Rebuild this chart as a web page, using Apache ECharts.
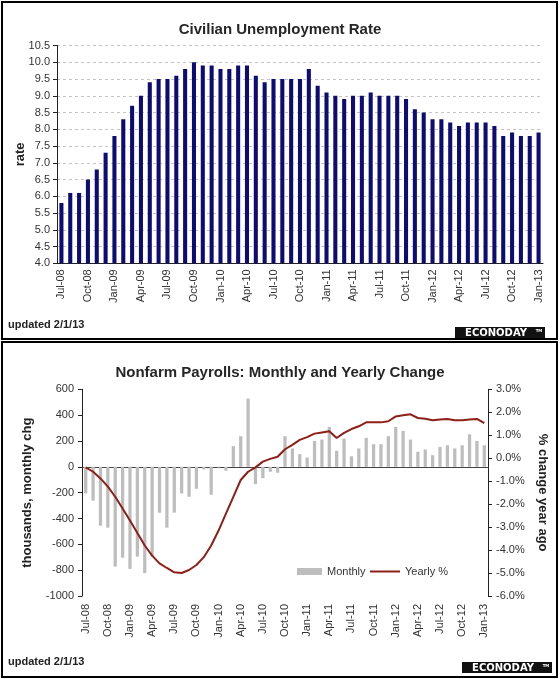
<!DOCTYPE html>
<html><head><meta charset="utf-8">
<script src="https://cdn.jsdelivr.net/npm/echarts@6/dist/echarts.min.js"></script>
<style>html,body{margin:0;padding:0;background:#fff}#c{width:560px;height:679px}</style>
</head><body><div id="c"></div>
<script>
const months = ['Jul-08','Aug-08','Sep-08','Oct-08','Nov-08','Dec-08',
  'Jan-09','Feb-09','Mar-09','Apr-09','May-09','Jun-09','Jul-09','Aug-09','Sep-09','Oct-09','Nov-09','Dec-09',
  'Jan-10','Feb-10','Mar-10','Apr-10','May-10','Jun-10','Jul-10','Aug-10','Sep-10','Oct-10','Nov-10','Dec-10',
  'Jan-11','Feb-11','Mar-11','Apr-11','May-11','Jun-11','Jul-11','Aug-11','Sep-11','Oct-11','Nov-11','Dec-11',
  'Jan-12','Feb-12','Mar-12','Apr-12','May-12','Jun-12','Jul-12','Aug-12','Sep-12','Oct-12','Nov-12','Dec-12',
  'Jan-13'];
const unemploymentRate = [5.8,6.1,6.1,6.5,6.8,7.3,
  7.8,8.3,8.7,9.0,9.4,9.5,9.5,9.6,9.8,10.0,9.9,9.9,
  9.8,9.8,9.9,9.9,9.6,9.4,9.5,9.5,9.5,9.5,9.8,9.3,
  9.1,9.0,8.9,9.0,9.0,9.1,9.0,9.0,9.0,8.9,8.6,8.5,
  8.3,8.3,8.2,8.1,8.2,8.2,8.2,8.1,7.8,7.9,7.8,7.8,
  7.9];
const payrollMonthly = [-206,-262,-456,-471,-772,-703,
  -790,-695,-823,-695,-355,-471,-355,-206,-232,-170,-20,-216,
  -5,-30,160,237,528,-134,-88,-39,-46,237,142,98,
  72,200,211,309,124,219,82,142,224,175,175,237,
  309,278,211,116,134,90,154,167,142,167,252,200,
  167];
const payrollYearlyPct = [-0.40,-0.59,-0.88,-1.24,-1.68,-2.19,
  -2.71,-3.26,-3.80,-4.24,-4.58,-4.78,-4.97,-5.00,-4.87,-4.65,-4.31,-3.80,
  -3.15,-2.41,-1.68,-0.95,-0.59,-0.40,-0.15,-0.03,0.06,0.39,0.58,0.80,
  0.92,1.07,1.12,1.17,0.88,1.10,1.27,1.39,1.56,1.56,1.56,1.61,
  1.82,1.87,1.91,1.75,1.72,1.65,1.68,1.71,1.65,1.65,1.68,1.71,
  1.53];
const rateAxis = {min: 4.0, max: 10.5, interval: 0.5};
const thousandsAxis = {min: -1000, max: 600, interval: 200};
const pctAxis = {min: -6, max: 3, interval: 1};

const FONT = '"Liberation Sans", Arial, sans-serif';
const lbl = {color: '#333', fontSize: 11, fontFamily: FONT};

const chart = echarts.init(document.getElementById('c'), null, {renderer: 'canvas'});

function logo(x, y) {
  return {type: 'group', x: x, y: y, children: [
    {type: 'rect', shape: {x: 0, y: 0, width: 90, height: 11}, style: {fill: '#111'}},
    {type: 'text', x: 41, y: 6, style: {text: 'ECONODAY', fill: '#fff', font: 'bold 10px "DejaVu Sans"', align: 'center', verticalAlign: 'middle'}},
    {type: 'text', x: 84, y: 4, style: {text: 'TM', fill: '#fff', font: 'bold 4px "DejaVu Sans"', align: 'center', verticalAlign: 'middle'}}
  ]};
}

chart.setOption({
  animation: false,
  backgroundColor: '#fff',
  title: [
    {text: 'Civilian Unemployment Rate', left: 'center', top: 17,
      textStyle: {fontSize: 15, fontWeight: 'bold', color: '#262626', fontFamily: FONT}},
    {text: 'Nonfarm Payrolls: Monthly and Yearly Change', left: 'center', top: 360,
      textStyle: {fontSize: 15, fontWeight: 'bold', color: '#262626', fontFamily: FONT}}
  ],
  legend: [
    {data: [{name: 'Monthly', icon: 'rect'}], left: 292, top: 561, itemWidth: 25, itemHeight: 7,
      textStyle: {fontSize: 11, color: '#333', fontFamily: FONT}, itemGap: 0},
    {data: [{name: 'Yearly %', icon: 'rect'}], left: 365, top: 561, itemWidth: 30, itemHeight: 2,
      textStyle: {fontSize: 11, color: '#333', fontFamily: FONT}, itemGap: 0}
  ],
  grid: [
    {left: 57, right: 17, top: 45.5, bottom: 415.7, containLabel: false, outerBoundsMode: 'none'},
    {left: 82, right: 72, top: 389.3, bottom: 83, containLabel: false, outerBoundsMode: 'none'}
  ],
  xAxis: [
    {type: 'category', gridIndex: 0, data: months, boundaryGap: true,
      axisLine: {lineStyle: {color: '#222'}},
      axisTick: {interval: 0, length: 4, lineStyle: {color: '#222'}},
      axisLabel: Object.assign({interval: 2, rotate: 90, margin: 6}, lbl),
      splitLine: {show: false}},
    {type: 'category', gridIndex: 1, data: months, boundaryGap: true, position: 'bottom',
      axisLine: {show: false, onZero: false},
      axisTick: {show: false},
      axisLabel: Object.assign({interval: 2, rotate: 90, margin: 8}, lbl),
      splitLine: {show: false}},
    {type: 'category', gridIndex: 1, data: months, boundaryGap: true, position: 'top',
      axisLine: {onZero: true, onZeroAxisIndex: 1, lineStyle: {color: '#444'}},
      axisTick: {interval: 2, length: 4, lineStyle: {color: '#222'}},
      axisLabel: {show: false}, splitLine: {show: false}},
    {type: 'category', gridIndex: 1, data: months, boundaryGap: true, position: 'bottom',
      axisLine: {onZero: true, onZeroAxisIndex: 1, lineStyle: {color: '#444'}},
      axisTick: {interval: 2, length: 4, lineStyle: {color: '#222'}},
      axisLabel: {show: false}, splitLine: {show: false}}
  ],
  yAxis: [
    {type: 'value', gridIndex: 0, min: rateAxis.min, max: rateAxis.max, interval: rateAxis.interval,
      name: 'rate', nameLocation: 'middle', nameGap: 30, nameMoveOverlap: false,
      nameTextStyle: {fontSize: 13, fontWeight: 'bold', color: '#222', fontFamily: FONT},
      axisLine: {show: true, lineStyle: {color: '#222'}},
      axisTick: {show: true, length: 4, lineStyle: {color: '#222'}},
      axisLabel: Object.assign({margin: 7, formatter: v => v.toFixed(1)}, lbl),
      splitLine: {show: true, lineStyle: {color: '#c4c4c4', type: [3, 3]}}},
    {type: 'value', gridIndex: 1, min: thousandsAxis.min, max: thousandsAxis.max, interval: thousandsAxis.interval,
      name: 'thousands, monthly chg', nameLocation: 'middle', nameGap: 48, nameMoveOverlap: false,
      nameTextStyle: {fontSize: 13, fontWeight: 'bold', color: '#222', fontFamily: FONT},
      axisLine: {show: true, onZero: false, lineStyle: {color: '#222'}},
      axisTick: {show: true, length: 4, lineStyle: {color: '#222'}},
      axisLabel: Object.assign({margin: 8, formatter: v => String(v)}, lbl),
      splitLine: {show: false}},
    {type: 'value', gridIndex: 1, position: 'right', min: pctAxis.min, max: pctAxis.max, interval: pctAxis.interval,
      name: '% change year ago', nameLocation: 'middle', nameGap: 48, nameRotate: -90, nameMoveOverlap: false,
      nameTextStyle: {fontSize: 13, fontWeight: 'bold', color: '#222', fontFamily: FONT},
      axisLine: {show: true, onZero: false, lineStyle: {color: '#222'}},
      axisTick: {show: true, length: 4, lineStyle: {color: '#222'}},
      axisLabel: Object.assign({margin: 8, formatter: v => v.toFixed(1) + '%'}, lbl),
      splitLine: {show: false}}
  ],
  series: [
    {name: 'Rate', type: 'bar', xAxisIndex: 0, yAxisIndex: 0, data: unemploymentRate,
      barWidth: '46%', itemStyle: {color: '#0c0c74'}},
    {name: 'Monthly', type: 'bar', xAxisIndex: 1, yAxisIndex: 1, data: payrollMonthly,
      barWidth: '44%', itemStyle: {color: '#bdbdbd'}},
    {name: 'Yearly %', type: 'line', xAxisIndex: 1, yAxisIndex: 2, data: payrollYearlyPct,
      symbol: 'none', lineStyle: {color: '#8e1f16', width: 2}, itemStyle: {color: '#8e1f16'}, z: 5}
  ],
  graphic: [
    {type: 'rect', shape: {x: 2, y: 2, width: 555, height: 337}, style: {fill: 'none', stroke: '#000', lineWidth: 2}},
    {type: 'rect', shape: {x: 2, y: 342, width: 555, height: 335}, style: {fill: 'none', stroke: '#000', lineWidth: 2}},
    {type: 'text', x: 8, y: 325, style: {text: 'updated 2/1/13', font: 'bold 11px "Liberation Sans"', fill: '#222', verticalAlign: 'middle'}},
    {type: 'text', x: 8, y: 662, style: {text: 'updated 2/1/13', font: 'bold 11px "Liberation Sans"', fill: '#222', verticalAlign: 'middle'}},
    logo(455, 327),
    logo(462, 662)
  ]
});
</script></body></html>
